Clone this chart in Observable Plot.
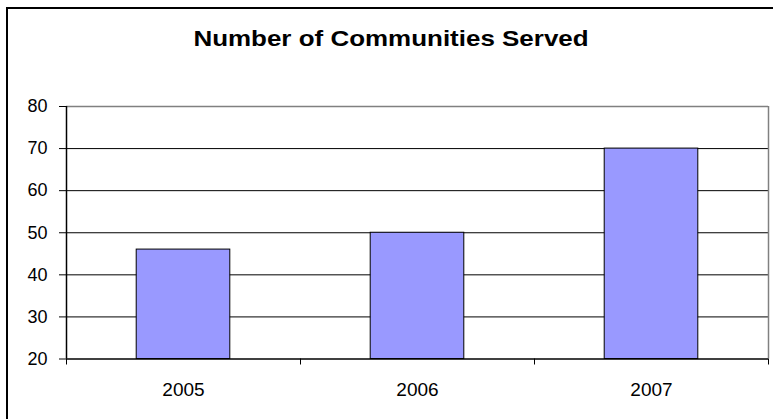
<!DOCTYPE html>
<html>
<head>
<meta charset="utf-8">
<script src="https://cdn.jsdelivr.net/npm/d3@7"></script>
<script src="https://cdn.jsdelivr.net/npm/@observablehq/plot@0.6"></script>
<style>
  html, body { margin: 0; padding: 0; background: #fff; overflow: hidden; width: 773px; height: 419px; }
  #frame { position: absolute; left: 6px; top: 7px; width: 820px; height: 470px; border: 2px solid #000; pointer-events: none; }
  #title { position: absolute; left: 391px; top: 28px; white-space: nowrap;
    transform: translateX(-50%) scaleX(1.18); transform-origin: center;
    font-family: "Liberation Sans", Arial, sans-serif; font-weight: bold; font-size: 22px; line-height: 22px; color: #000; }
  #chart { position: absolute; left: 0; top: 90px; }
</style>
</head>
<body>
<div id="title">Number of Communities Served</div>
<div id="chart"></div>
<div id="frame"></div>
<script>
const years = ["2005", "2006", "2007"];
const communities = [46, 50, 70];
const yTicks = [20, 30, 40, 50, 60, 70, 80];
const gridValues = [30, 40, 50, 60, 70];

const data = years.map((year, i) => ({ i, year, value: communities[i] }));
const boundaries = d3.range(years.length + 1);
const centers = years.map((_, i) => i + 0.5);

const chart = Plot.plot({
  width: 773,
  height: 329,
  marginLeft: 66,
  marginRight: 5,
  marginTop: 16,
  marginBottom: 60.5,
  style: { fontFamily: "'Liberation Sans', Arial, sans-serif", background: "#fff", color: "#000" },
  x: { type: "linear", domain: [0, years.length] },
  y: { domain: [20, 80] },
  marks: [
    Plot.ruleY(gridValues, { stroke: "#000", strokeWidth: 1 }),
    Plot.ruleY([80], { stroke: "#808080", strokeWidth: 1.5 }),
    Plot.ruleX([years.length], { stroke: "#808080", strokeWidth: 1.5 }),
    Plot.rectY(data, { x1: d => d.i + 0.3, x2: d => d.i + 0.7, y1: 20, y2: "value", fill: "#9999FF", stroke: "#000", strokeWidth: 1 }),
    Plot.ruleY([20], { stroke: "#000", strokeWidth: 1.5 }),
    Plot.ruleX([0], { stroke: "#000", strokeWidth: 1.5 }),
    Plot.axisY({ ticks: yTicks, tickSize: 7, tickPadding: 12, fontSize: 18, tickFormat: d => String(d), label: null, stroke: "#000" }),
    Plot.axisX({ ticks: boundaries, tickSize: 6, tickFormat: () => "", label: null, stroke: "#000" }),
    Plot.axisX({ ticks: centers, tickSize: 0, tickPadding: 23, fontSize: 19, tickFormat: d => years[Math.floor(d)], label: null })
  ]
});
document.getElementById("chart").appendChild(chart);
</script>
</body>
</html>
